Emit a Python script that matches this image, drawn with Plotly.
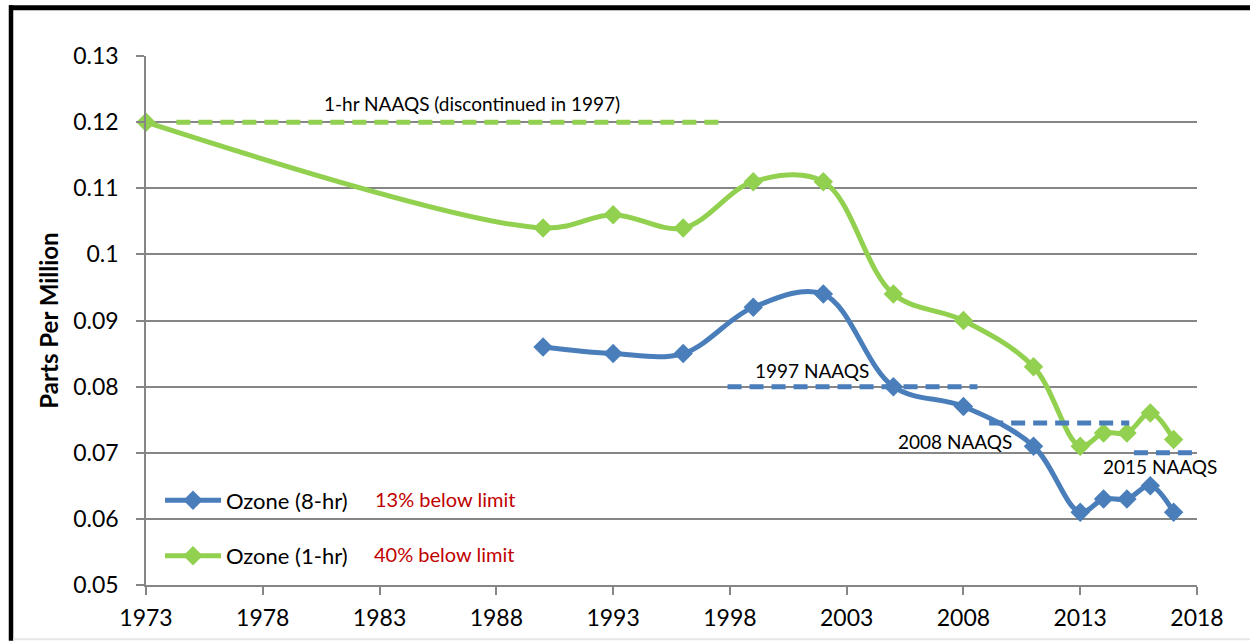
import plotly.graph_objects as go

# ---- data ----
years_8hr = [1990, 1993, 1996, 1999, 2002, 2005, 2008, 2011, 2013, 2014, 2015, 2016, 2017]
ozone_8hr = [0.086, 0.085, 0.085, 0.092, 0.094, 0.080, 0.077, 0.071, 0.061, 0.063, 0.063, 0.065, 0.061]

years_1hr = [1973, 1990, 1993, 1996, 1999, 2002, 2005, 2008, 2011, 2013, 2014, 2015, 2016, 2017]
ozone_1hr = [0.120, 0.104, 0.106, 0.104, 0.111, 0.111, 0.094, 0.090, 0.083, 0.071, 0.073, 0.073, 0.076, 0.072]

naaqs_1hr_x = [1974.3, 1997.6]
naaqs_1hr_y = [0.120, 0.120]
naaqs_1997_x = [1997.9, 2008.6]
naaqs_1997_y = [0.080, 0.080]
naaqs_2008_x = [2009.1, 2015.1]
naaqs_2008_y = [0.0745, 0.0745]
naaqs_2015_x = [2015.3, 2017.9]
naaqs_2015_y = [0.070, 0.070]

x_ticks = [1973, 1978, 1983, 1988, 1993, 1998, 2003, 2008, 2013, 2018]
y_ticks = [0.05, 0.06, 0.07, 0.08, 0.09, 0.10, 0.11, 0.12, 0.13]
y_ticktext = ["0.05", "0.06", "0.07", "0.08", "0.09", "0.1", "0.11", "0.12", "0.13"]

BLUE = "#4A7EBB"
GREEN = "#92D050"
GRID = "#868686"
FONT = "Lato"

fig = go.Figure()

fig.add_trace(go.Scatter(
    x=years_8hr, y=ozone_8hr, name="Ozone (8-hr)", mode="lines+markers",
    line=dict(color=BLUE, width=5, shape="spline", smoothing=1.0),
    marker=dict(symbol="diamond", size=15, color=BLUE),
    legendgroup="a", cliponaxis=False))
fig.add_trace(go.Scatter(
    x=years_1hr, y=ozone_1hr, name="Ozone (1-hr)", mode="lines+markers",
    line=dict(color=GREEN, width=5, shape="spline", smoothing=1.0),
    marker=dict(symbol="diamond", size=15, color=GREEN),
    legendgroup="b", cliponaxis=False))

for xs, ys, col in [(naaqs_1hr_x, naaqs_1hr_y, GREEN),
                    (naaqs_1997_x, naaqs_1997_y, BLUE),
                    (naaqs_2008_x, naaqs_2008_y, BLUE),
                    (naaqs_2015_x, naaqs_2015_y, BLUE)]:
    fig.add_trace(go.Scatter(x=xs, y=ys, mode="lines", showlegend=False,
                             line=dict(color=col, width=5, dash="14px,8px"),
                             hoverinfo="skip", cliponaxis=False))

ann_font = dict(family=FONT, size=19, color="black")
annotations = [
    dict(x=1986.96, y=0.1228, text="1-hr NAAQS (discontinued in 1997)"),
    dict(x=2001.5, y=0.0824, text="1997 NAAQS"),
    dict(x=2007.64, y=0.0717, text="2008 NAAQS"),
    dict(x=2016.42, y=0.0679, text="2015 NAAQS"),
]
for a in annotations:
    fig.add_annotation(xref="x", yref="y", showarrow=False, font=ann_font,
                       xanchor="center", yanchor="middle", **a)

# outer frame
def px_x(p):
    return (p - 146) / 1051
def px_y(p):
    return (587 - p) / 531

red_font = dict(family=FONT, size=20, color="#C00000")
fig.add_annotation(xref="paper", yref="paper", x=px_x(373), y=px_y(500.5),
                   text="13% below limit", showarrow=False, font=red_font,
                   xanchor="left", yanchor="middle")
fig.add_annotation(xref="paper", yref="paper", x=px_x(372), y=px_y(556),
                   text="40% below limit", showarrow=False, font=red_font,
                   xanchor="left", yanchor="middle")

shapes = [
    dict(type="line", xref="paper", yref="paper", x0=px_x(11), x1=px_x(11), y0=px_y(5), y1=px_y(643),
         line=dict(color="black", width=4.5)),
    dict(type="line", xref="paper", yref="paper", x0=px_x(9), x1=px_x(1250), y0=px_y(7.5), y1=px_y(7.5),
         line=dict(color="black", width=5)),
    dict(type="line", xref="paper", yref="paper", x0=px_x(13), x1=px_x(1250), y0=px_y(641.5), y1=px_y(641.5),
         line=dict(color="#E6E6E6", width=2)),
]

fig.update_layout(
    width=1250, height=643,
    margin=dict(l=146, r=53, t=56, b=56),
    paper_bgcolor="white", plot_bgcolor="white",
    font=dict(family=FONT, color="black"),
    shapes=shapes,
    showlegend=True,
    legend=dict(x=px_x(160), y=px_y(481), xanchor="left", yanchor="top",
                bgcolor="rgba(0,0,0,0)", font=dict(family=FONT, size=22, color="black"),
                itemwidth=56, tracegroupgap=24, traceorder="grouped"),
    xaxis=dict(range=[1973, 2018], tickvals=x_ticks, showgrid=False, zeroline=False,
               showline=True, linecolor=GRID, linewidth=1.5,
               ticks="outside", ticklen=8, tickcolor=GRID, tickwidth=1.5,
               ticklabelstandoff=4,
               tickfont=dict(family=FONT, size=23, color="black")),
    yaxis=dict(range=[0.05, 0.13], tickvals=y_ticks, ticktext=y_ticktext,
               showgrid=True, gridcolor=GRID, gridwidth=1.5, zeroline=False,
               showline=True, linecolor=GRID, linewidth=1.5,
               ticks="outside", ticklen=8, tickcolor=GRID, tickwidth=1.5,
               ticklabelstandoff=13,
               tickfont=dict(family=FONT, size=23, color="black"),
               title=dict(text="<b>Parts Per Million</b>", standoff=8,
                          font=dict(family=FONT, size=24, color="black"))),
)

fig.write_html("out.html", config={"displayModeBar": False},
               post_script="document.body.style.margin='0px';")
